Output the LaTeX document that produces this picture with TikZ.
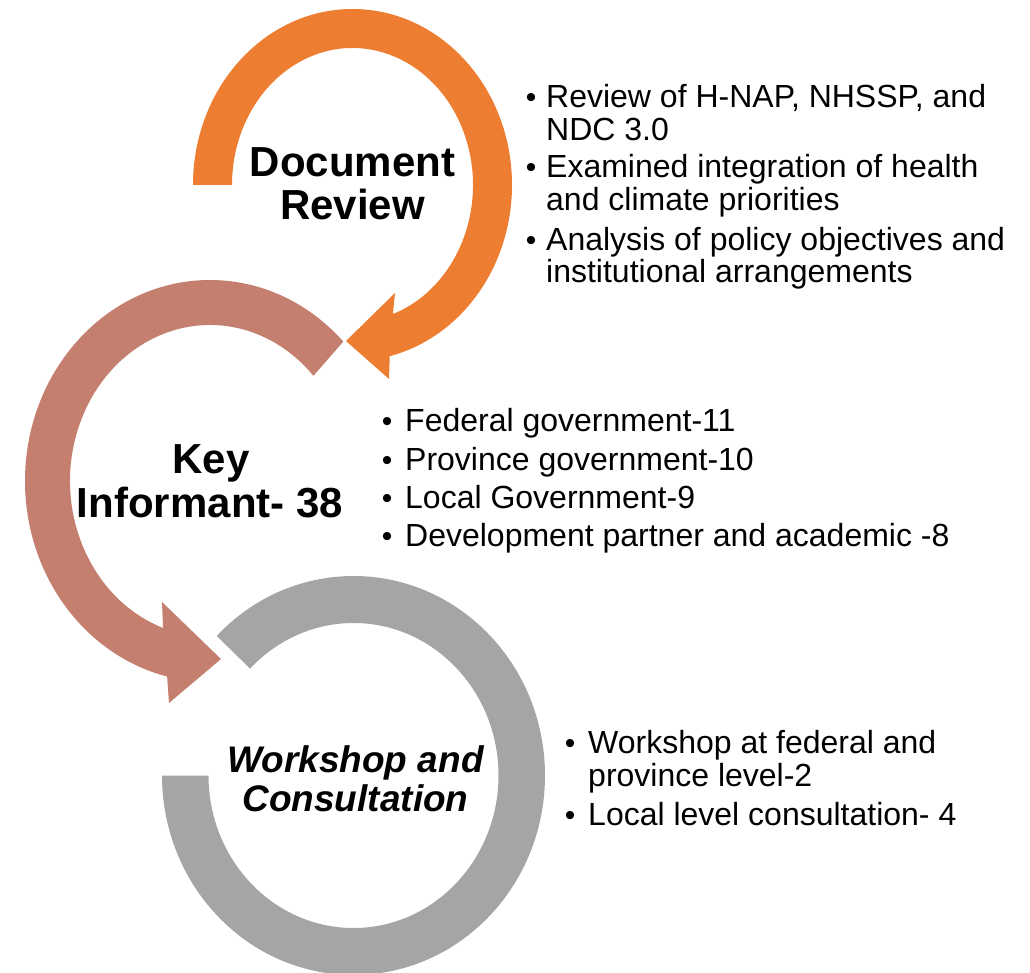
\documentclass[tikz,border=0pt]{standalone}
\usepackage{fontspec}
\setmainfont{Liberation Sans}
\definecolor{docorange}{HTML}{ED7D31}
\definecolor{keybrown}{HTML}{C47F6F}
\definecolor{wsgray}{HTML}{A5A5A5}
\begin{document}
\begin{tikzpicture}[x=1pt,y=1pt,
  stagetitle/.style={inner sep=0pt, anchor=base, font=\fontsize{42}{44}\selectfont\bfseries},
  stageitalic/.style={inner sep=0pt, anchor=base, font=\fontsize{37}{39}\selectfont\bfseries\itshape},
  itemtext/.style={inner sep=0pt, anchor=base west, font=\fontsize{32}{34}\selectfont},
  bulletmark/.style={inner sep=0pt, anchor=base, font=\fontsize{30}{34}\selectfont}]
\useasboundingbox (0,0) rectangle (1030,-973);

% Document Review: orange circular arrow
\begin{scope}[shift={(352.5,-185)}]
  \fill[docorange] (180:159.5 and 176)
    arc[start angle=180, end angle=-76.5, x radius=159.5, y radius=176]
    -- (36.5,-194) -- (-6.5,-156) -- (42.5,-108)
    -- (-70.4:120.5 and 137)
    arc[start angle=-70.4, end angle=180, x radius=120.5, y radius=137]
    -- cycle;
\end{scope}

% Key Informant: brown circular arrow
\begin{scope}[shift={(210,-481)}]
  \fill[keybrown] (43.9:185 and 201)
    arc[start angle=43.9, end angle=256.6, x radius=185, y radius=201]
    -- (-41,-222) -- (11,-178) -- (-48,-121)
    -- (250.4:140 and 156)
    arc[start angle=250.4, end angle=42.4, x radius=140, y radius=156]
    -- cycle;
\end{scope}

% Workshop and Consultation: grey ring segment
\begin{scope}[shift={(353.5,-775.5)}]
  \fill[wsgray] (135.6:191.5 and 199.5)
    arc[start angle=135.6, end angle=-180, x radius=191.5, y radius=199.5]
    -- (-180:145 and 152.5)
    arc[start angle=-180, end angle=135.5, x radius=145, y radius=152.5]
    -- cycle;
\end{scope}

% Stage titles
\node[stagetitle] (docA) at (352.5,-177) {Document};
\node[stagetitle] (docB) at (352.5,-220) {Review};
\node[stagetitle] (keyA) at (211,-473) {Key};
\node[stagetitle] (keyB) at (210,-517) {Informant- 38};
\node[stageitalic] (wsA) at (355.5,-772) {Workshop and};
\node[stageitalic] (wsB) at (355.5,-811) {Consultation};

% Document Review details
\node[bulletmark] (db1) at (531,-108) {•};
\node[itemtext] (dt1a) at (546,-108) {Review of H-NAP, NHSSP, and};
\node[itemtext] (dt1b) at (546,-141) {NDC 3.0};
\node[bulletmark] (db2) at (531,-178) {•};
\node[itemtext] (dt2a) at (546,-178) {Examined integration of health};
\node[itemtext] (dt2b) at (546,-211) {and climate priorities};
\node[bulletmark] (db3) at (531,-251) {•};
\node[itemtext] (dt3a) at (546,-251) {Analysis of policy objectives and};
\node[itemtext] (dt3b) at (546,-283) {institutional arrangements};

% Key Informant details
\node[bulletmark] (kb1) at (387,-431) {•};
\node[itemtext] (kt1) at (405,-431) {Federal government-11};
\node[bulletmark] (kb2) at (387,-470) {•};
\node[itemtext] (kt2) at (405,-470) {Province government-10};
\node[bulletmark] (kb3) at (387,-508) {•};
\node[itemtext] (kt3) at (405,-508) {Local Government-9};
\node[bulletmark] (kb4) at (387,-546) {•};
\node[itemtext] (kt4) at (405,-546) {Development partner and academic -8};

% Workshop and Consultation details
\node[bulletmark] (wb1) at (570,-753) {•};
\node[itemtext] (wt1a) at (588,-753) {Workshop at federal and};
\node[itemtext] (wt1b) at (588,-786) {province level-2};
\node[bulletmark] (wb2) at (570,-825) {•};
\node[itemtext] (wt2) at (588,-825) {Local level consultation- 4};
\end{tikzpicture}
\end{document}
